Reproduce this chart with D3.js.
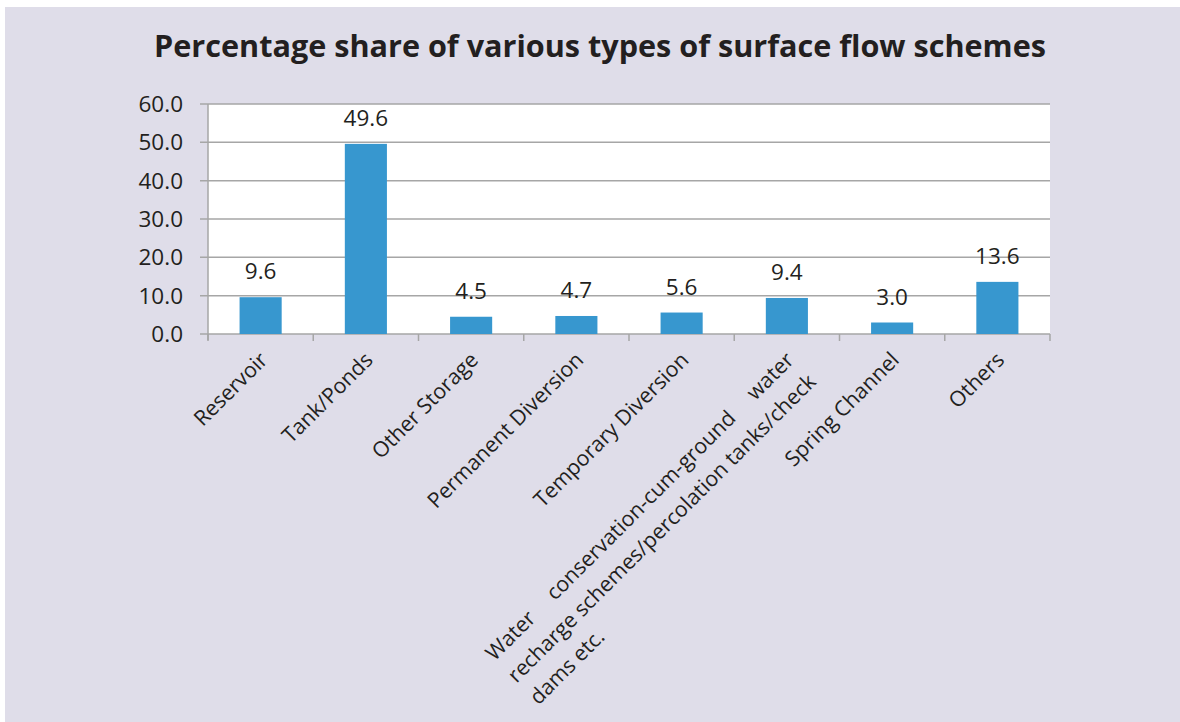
<!DOCTYPE html>
<html>
<head>
<meta charset="utf-8">
<script src="https://cdn.jsdelivr.net/npm/d3@7"></script>
<style>
  html, body { margin: 0; padding: 0; background: #ffffff; }
  svg { display: block; }
  text { font-family: "Open Sans", sans-serif; fill: #231f20; }
</style>
</head>
<body>
<svg id="chart" width="1180" height="722"></svg>
<script>
const title = "Percentage share of various types of surface flow schemes";
const categories = [
  ["Reservoir"],
  ["Tank/Ponds"],
  ["Other Storage"],
  ["Permanent Diversion"],
  ["Temporary Diversion"],
  ["Water conservation-cum-ground water", "recharge schemes/percolation tanks/check", "dams etc."],
  ["Spring Channel"],
  ["Others"]
];
const values = [9.6, 49.6, 4.5, 4.7, 5.6, 9.4, 3.0, 13.6];
const yTicks = [0, 10, 20, 30, 40, 50, 60];

const svg = d3.select("#chart");
svg.append("rect").attr("x", 5).attr("y", 7).attr("width", 1175).attr("height", 715).attr("fill", "#dfdde9");

const m = { left: 208, right: 1050, top: 104, bottom: 334 };
const x = d3.scaleBand().domain(d3.range(categories.length)).range([m.left, m.right]).paddingInner(0.6).paddingOuter(0.3);
const y = d3.scaleLinear().domain([0, 60]).range([m.bottom, m.top]);

svg.append("rect").attr("x", m.left).attr("y", m.top).attr("width", m.right - m.left).attr("height", m.bottom - m.top).attr("fill", "#ffffff");

// gridlines
svg.append("g").selectAll("line").data(yTicks).join("line")
  .attr("x1", m.left - 8).attr("x2", m.right)
  .attr("y1", d => y(d)).attr("y2", d => y(d))
  .attr("stroke", "#a6a6a6").attr("stroke-width", 1.5);

// left axis line
svg.append("line").attr("x1", m.left).attr("x2", m.left).attr("y1", m.top).attr("y2", m.bottom + 6)
  .attr("stroke", "#a6a6a6").attr("stroke-width", 1.5);

// bottom category ticks
const band = (m.right - m.left) / categories.length;
svg.append("g").selectAll("line").data(d3.range(categories.length + 1)).join("line")
  .attr("x1", i => m.left + i * band).attr("x2", i => m.left + i * band)
  .attr("y1", m.bottom).attr("y2", m.bottom + 7)
  .attr("stroke", "#a6a6a6").attr("stroke-width", 1.5);

// y tick labels
svg.append("g").selectAll("text").data(yTicks).join("text")
  .attr("x", 183).attr("y", d => y(d)).attr("dy", "0.36em")
  .attr("text-anchor", "end").attr("font-size", 22.5)
  .text(d => d3.format(".1f")(d));

// bars
svg.append("g").selectAll("rect").data(values).join("rect")
  .attr("x", (d, i) => x(i)).attr("width", x.bandwidth())
  .attr("y", d => y(d)).attr("height", d => y(0) - y(d))
  .attr("fill", "#3797cf");

// value labels
svg.append("g").selectAll("text").data(values).join("text")
  .attr("x", (d, i) => x(i) + x.bandwidth() / 2).attr("y", d => y(d) - 18)
  .attr("text-anchor", "middle").attr("font-size", 22.5)
  .text(d => d3.format(".1f")(d));

// category labels
const lh = 31;
const fs = 21.3;
categories.forEach((lines, i) => {
  const cx = x(i) + x.bandwidth() / 2 + 3;
  const g = svg.append("g").attr("transform", `translate(${cx},${m.bottom + 22}) rotate(-45)`);
  if (lines.length === 1) {
    g.append("text").attr("text-anchor", "end").attr("dy", "0.35em").attr("font-size", fs).text(lines[0]);
  } else {
    // justified paragraph: width set by the longest line, aligned to end at the tick
    const t2 = g.append("text").attr("font-size", fs).attr("dy", "0.35em").text(lines[1]);
    const w = t2.node().getComputedTextLength();
    t2.attr("x", -w).attr("y", lh);
    const words = lines[0].split(" ");
    const tmp = words.map(wd => {
      const t = g.append("text").attr("font-size", fs).attr("dy", "0.35em").text(wd);
      return { t, w: t.node().getComputedTextLength() };
    });
    const total = d3.sum(tmp, d => d.w);
    const gap = (w - total) / (words.length - 1);
    let pos = -w;
    tmp.forEach(d => { d.t.attr("x", pos).attr("y", 0); pos += d.w + gap; });
    g.append("text").attr("font-size", fs).attr("dy", "0.35em").attr("x", -w).attr("y", 2 * lh).text(lines[2]);
  }
});

// title
svg.append("text").attr("x", 600).attr("y", 57).attr("text-anchor", "middle")
  .attr("font-size", 30.6).attr("font-weight", "bold").text(title);
</script>
</body>
</html>
